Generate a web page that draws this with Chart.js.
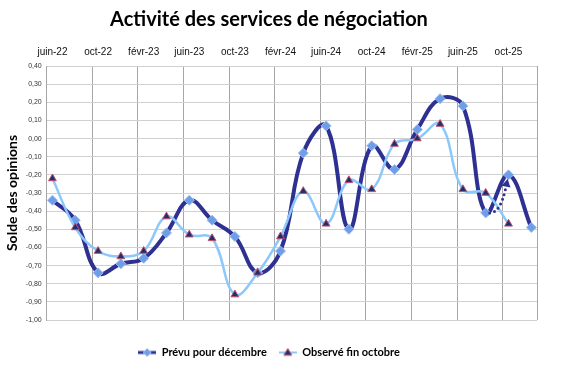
<!DOCTYPE html>
<html>
<head>
<meta charset="utf-8">
<script src="https://cdn.jsdelivr.net/npm/chart.js@4/dist/chart.umd.min.js"></script>
<style>
  body { margin: 0; background: #fff; }
  #chart { display: block; }
</style>
</head>
<body>
<canvas id="chart" width="565" height="372"></canvas>
<script>
// monthly category axis, june 2022 -> december 2025
const months = [
  'juin-22', 'juil-22', 'août-22', 'sept-22', 'oct-22', 'nov-22', 'déc-22',
  'janv-23', 'févr-23', 'mars-23', 'avr-23', 'mai-23', 'juin-23', 'juil-23', 'août-23', 'sept-23', 'oct-23', 'nov-23', 'déc-23',
  'janv-24', 'févr-24', 'mars-24', 'avr-24', 'mai-24', 'juin-24', 'juil-24', 'août-24', 'sept-24', 'oct-24', 'nov-24', 'déc-24',
  'janv-25', 'févr-25', 'mars-25', 'avr-25', 'mai-25', 'juin-25', 'juil-25', 'août-25', 'sept-25', 'oct-25', 'nov-25', 'déc-25'
];

// one value every two months, starting juin-22
const prevuDecembre = [-0.34, -0.45, -0.74, -0.69, -0.66, -0.52, -0.34, -0.45, -0.54, -0.74, -0.62,
  -0.08, 0.07, -0.50, -0.04, -0.17, 0.05, 0.22, 0.18, -0.41, -0.20, -0.49];
const observeOctobre = [-0.22, -0.49, -0.62, -0.65, -0.62, -0.43, -0.53, -0.55, -0.86, -0.74, -0.54,
  -0.29, -0.47, -0.23, -0.28, -0.03, 0.00, 0.08, -0.28, -0.30, -0.47];

const yTicks = { min: -1, max: 0.4, step: 0.1 };

const DARK = '#2E3192';
const LIGHT = '#8CC8FA';

function toMonthly(values) {
  return months.map((m, i) => (i % 2 === 0 && i / 2 < values.length) ? values[i / 2] : null);
}

function legendIcon(lineColor, lineWidth, style, fill, stroke, r) {
  const c = document.createElement('canvas');
  c.width = 18; c.height = 12;
  const g = c.getContext('2d');
  g.strokeStyle = lineColor;
  g.lineWidth = lineWidth;
  g.beginPath(); g.moveTo(0, 6); g.lineTo(18, 6); g.stroke();
  g.fillStyle = fill; g.strokeStyle = stroke; g.lineWidth = 1;
  g.beginPath();
  if (style === 'rectRot') {
    g.moveTo(9, 6 - r); g.lineTo(9 + r, 6); g.lineTo(9, 6 + r); g.lineTo(9 - r, 6);
  } else {
    g.moveTo(9, 6 - r); g.lineTo(9 + r, 6 + r * 0.7); g.lineTo(9 - r, 6 + r * 0.7);
  }
  g.closePath(); g.fill(); g.stroke();
  return c;
}

// dotted arrow from août-25 to oct-25 on the forecast series
const arrowPlugin = {
  id: 'arrow',
  afterDatasetsDraw(chart) {
    const meta = chart.getDatasetMeta(0);
    const p0 = meta.data[38], p1 = meta.data[40];
    if (!p0 || !p1) return;
    const cx = p0.x + 0.65 * (p1.x - p0.x), cy = p0.y;
    let dx = p1.x - cx, dy = p1.y - cy;
    const len = Math.hypot(dx, dy);
    dx /= len; dy /= len;
    const tx = p1.x - dx * 4, ty = p1.y - dy * 4;
    const bx = tx - dx * 8, by = ty - dy * 8;
    const ctx = chart.ctx;
    ctx.save();
    ctx.strokeStyle = DARK;
    ctx.lineWidth = 3;
    ctx.lineCap = 'round';
    ctx.setLineDash([0, 5]);
    ctx.beginPath();
    ctx.moveTo(p0.x + 4, p0.y);
    ctx.quadraticCurveTo(cx, cy, bx, by);
    ctx.stroke();
    ctx.setLineDash([]);
    ctx.fillStyle = DARK;
    ctx.beginPath();
    ctx.moveTo(tx, ty);
    ctx.lineTo(bx - dy * 4.5, by + dx * 4.5);
    ctx.lineTo(bx + dy * 4.5, by - dx * 4.5);
    ctx.closePath();
    ctx.fill();
    ctx.restore();
  }
};

const legendItems = [
  { text: 'Prévu pour décembre', icon: legendIcon(DARK, 3, 'rectRot', '#6E9EE8', '#9DBDF0', 4) },
  { text: 'Observé fin octobre', icon: legendIcon(LIGHT, 2, 'triangle', '#1F2F6E', '#C0506E', 4) }
];

new Chart(document.getElementById('chart'), {
  type: 'line',
  data: {
    labels: months,
    datasets: [
      {
        label: 'Prévu pour décembre',
        data: toMonthly(prevuDecembre),
        borderColor: DARK,
        borderWidth: 4,
        tension: 0.4,
        spanGaps: true,
        pointStyle: 'rectRot',
        pointRadius: 5,
        pointBackgroundColor: '#6E9EE8',
        pointBorderColor: '#9DBDF0',
        pointBorderWidth: 1,
        order: 2,
        segment: {
          borderColor: ctx => ctx.p0DataIndex === 38 ? 'rgba(0,0,0,0)' : undefined
        }
      },
      {
        label: 'Observé fin octobre',
        data: toMonthly(observeOctobre),
        borderColor: LIGHT,
        borderWidth: 2.5,
        tension: 0.4,
        spanGaps: true,
        pointStyle: 'triangle',
        pointRadius: 4.5,
        pointBackgroundColor: '#1F2F6E',
        pointBorderColor: '#C0506E',
        pointBorderWidth: 1,
        order: 1
      }
    ]
  },
  options: {
    responsive: false,
    animation: false,
    layout: { padding: { left: 1, right: 28, top: 0, bottom: 4 } },
    plugins: {
      title: {
        display: true,
        text: 'Activité des services de négociation',
        color: '#000',
        font: { family: 'Lato', size: 20, weight: 'bold' },
        padding: { top: 8, bottom: 6 }
      },
      legend: {
        position: 'bottom',
        labels: {
          usePointStyle: true,
          pointStyleWidth: 18,
          padding: 12,
          color: '#000',
          font: { family: 'Lato', size: 11, weight: 'bold' },
          generateLabels: () => legendItems.map((it, i) => ({
            text: it.text, pointStyle: it.icon, datasetIndex: i,
            fillStyle: 'transparent', strokeStyle: 'transparent', lineWidth: 0
          }))
        }
      },
      tooltip: { enabled: false }
    },
    scales: {
      x: {
        position: 'top',
        offset: true,
        border: { display: false },
        grid: {
          offset: true,
          drawTicks: false,
          lineWidth: 1,
          color: ctx => (ctx.index === undefined || ctx.index % 4 === 0) ? '#a6a6a6' : 'rgba(0,0,0,0)'
        },
        ticks: {
          autoSkip: false,
          maxRotation: 0,
          minRotation: 0,
          padding: 8,
          color: '#111',
          font: { family: 'Liberation Sans', size: 10 },
          callback: (v, i) => i % 4 === 0 ? months[i] : ''
        }
      },
      // empty band between the plot and the legend
      spacer: {
        type: 'category',
        position: 'bottom',
        grid: { display: false },
        border: { display: false },
        ticks: { display: false },
        afterFit: s => { s.height = 15; }
      },
      y: {
        min: yTicks.min,
        max: yTicks.max,
        border: { color: '#a6a6a6' },
        grid: { color: '#d0d0d0', drawTicks: false },
        ticks: {
          stepSize: yTicks.step,
          padding: 5,
          color: '#333',
          font: { family: 'Liberation Sans', size: 7 },
          callback: v => (Math.abs(v) < 1e-9 ? 0 : v).toFixed(2).replace('.', ',')
        },
        title: {
          display: true,
          text: 'Solde des opinions',
          color: '#000',
          font: { family: 'Lato', size: 14, weight: 'bold' },
          padding: { top: 3, bottom: 0 }
        }
      }
    }
  },
  plugins: [arrowPlugin]
});
</script>
</body>
</html>
